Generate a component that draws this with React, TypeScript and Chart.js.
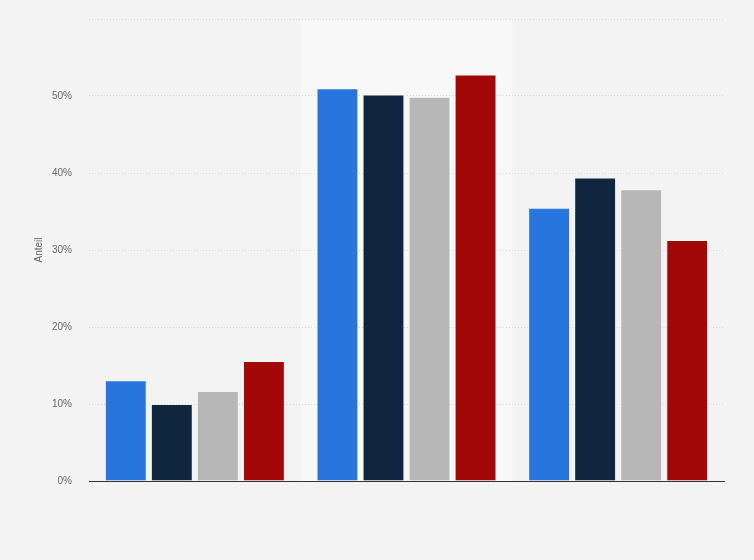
import React, { useEffect, useRef } from "react";
import { Chart, registerables } from "chart.js";

Chart.register(...registerables);

const categories = ["A", "B", "C"];
const seriesNames = ["Serie 1", "Serie 2", "Serie 3", "Serie 4"];
const series1 = [13.1, 51.0, 35.5];
const series2 = [10.0, 50.2, 39.4];
const series3 = [11.7, 49.9, 37.9];
const series4 = [15.6, 52.8, 31.3];
const seriesColors = ["#2876dd", "#10263e", "#b7b7b7", "#a30808"];
const highlightIndex = 1;

const bgPlugin = {
  id: "bg",
  beforeDraw(chart: any) {
    const ctx = chart.ctx;
    const area = chart.chartArea;
    ctx.save();
    ctx.fillStyle = "#f3f3f3";
    ctx.fillRect(0, 0, chart.width, chart.height);
    const n = categories.length;
    const w = (area.right - area.left) / n;
    ctx.fillStyle = "#f8f8f8";
    ctx.fillRect(area.left + w * highlightIndex, area.top, w, area.bottom - area.top);
    ctx.restore();
  },
};

export default function App() {
  const ref = useRef<HTMLCanvasElement>(null);
  useEffect(() => {
    const all = [series1, series2, series3, series4];
    const chart = new Chart(ref.current!, {
      type: "bar",
      data: {
        labels: categories,
        datasets: all.map((d, i) => ({
          label: seriesNames[i],
          data: d,
          backgroundColor: seriesColors[i],
          borderColor: "rgba(255,255,255,0.25)",
          borderWidth: 1,
          categoryPercentage: 0.87,
          barPercentage: 0.91,
        })),
      },
      plugins: [bgPlugin],
      options: {
        animation: false,
        responsive: false,
        maintainAspectRatio: false,
        layout: { padding: { left: 0, right: 30, top: 19, bottom: 79 } },
        plugins: { legend: { display: false }, tooltip: { enabled: false } },
        scales: {
          x: {
            ticks: { display: false },
            grid: { display: false, drawTicks: false },
            border: { display: true, color: "#333", width: 1 },
            afterFit(scale: any) {
              scale.height = 0;
              scale.paddingLeft = 0;
              scale.paddingRight = 0;
            },
          },
          y: {
            min: 0,
            max: 60,
            ticks: {
              stepSize: 10,
              color: "#666",
              font: { family: "Liberation Sans, Arial", size: 10 },
              padding: 17,
              callback: (v: any) => (v === 60 ? "" : v + "%"),
            },
            grid: { color: "#d6d6d6", drawTicks: false },
            border: { display: false, dash: [1, 2] },
            title: {
              display: true,
              text: "Anteil",
              color: "#666",
              font: { family: "Liberation Sans, Arial", size: 10 },
              padding: { top: 33, bottom: 0 },
            },
            afterFit(scale: any) {
              scale.width = 89;
              scale.paddingTop = 0;
              scale.paddingBottom = 0;
            },
          },
        },
      },
    });
    return () => chart.destroy();
  }, []);
  return (
    <div style={{ position: "fixed", left: 0, top: 0, width: 754, height: 560 }}>
      <canvas ref={ref} width={754} height={560} />
    </div>
  );
}
